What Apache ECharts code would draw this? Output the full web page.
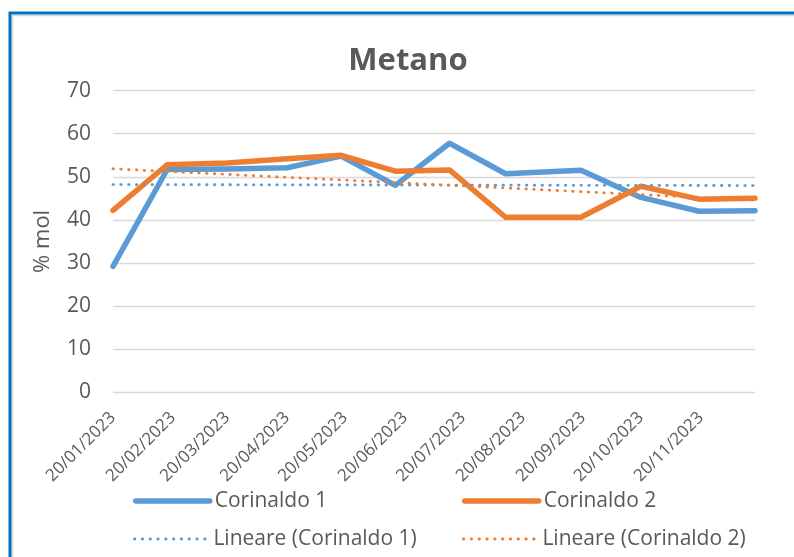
<!DOCTYPE html>
<html><head><meta charset="utf-8">
<script src="https://cdn.jsdelivr.net/npm/echarts@6/dist/echarts.min.js"></script>
<style>html,body{margin:0;padding:0;background:#fff}#c{width:794px;height:557px}</style>
</head><body><div id="c"></div>
<script>
const tickLabels = ['20/01/2023','20/02/2023','20/03/2023','20/04/2023','20/05/2023','20/06/2023','20/07/2023','20/08/2023','20/09/2023','20/10/2023','20/11/2023'];
const sampleDates = ['20/01/2023','17/02/2023','20/03/2023','20/04/2023','18/05/2023','15/06/2023','13/07/2023','11/08/2023','19/09/2023','20/10/2023','19/11/2023','18/12/2023'];
const corinaldo1 = [29.2, 51.7, 51.8, 52.1, 54.8, 48.0, 57.8, 50.7, 51.5, 45.2, 42.0, 42.1];
const corinaldo2 = [42.2, 52.8, 53.2, 54.2, 55.0, 51.3, 51.6, 40.6, 40.6, 47.8, 44.8, 45.0];
const seriesNames = ['Corinaldo 1','Corinaldo 2','Lineare (Corinaldo 1)','Lineare (Corinaldo 2)'];

// dates -> day number since first sample (UTC, no DST issues)
function day(s){ const p = s.split('/'); return Date.UTC(+p[2], +p[1]-1, +p[0]) / 86400000; }
const d0 = day(sampleDates[0]);
const xs = sampleDates.map(s => day(s) - d0);
const tickValues = tickLabels.map(s => day(s) - d0);
function pairs(vals){ return vals.map((v,i)=>[xs[i], v]); }
function trend(vals){
  const n = vals.length;
  const mx = xs.reduce((a,b)=>a+b,0)/n, my = vals.reduce((a,b)=>a+b,0)/n;
  let sxy=0, sxx=0;
  for(let i=0;i<n;i++){ sxy += (xs[i]-mx)*(vals[i]-my); sxx += (xs[i]-mx)*(xs[i]-mx); }
  const b = sxy/sxx, a = my - b*mx;
  return [[xs[0], a + b*xs[0]], [xs[n-1], a + b*xs[n-1]]];
}
const BLUE = '#5B9BD5', ORANGE = '#ED7D31', TXT = '#595959', FONT = 'Open Sans';
const DOT = [0.5, 7.3];
const chart = echarts.init(document.getElementById('c'), null, {renderer:'canvas'});
function leg(name, left, top, color, dotted){
  return { data:[name], left:left, top:top, orient:'horizontal', padding:0, itemWidth:74, itemHeight:14, itemGap:5,
    itemStyle:{ opacity:0, borderWidth:0 },
    lineStyle: dotted ? { color:color, width:2.8, type:DOT, cap:'round', opacity:1 }
                      : { color:color, width:5.5, type:'solid', cap:'round', opacity:1 },
    textStyle:{color:TXT, fontSize:21, fontFamily:FONT, lineHeight:24}, selectedMode:false };
}
chart.setOption({
  animation:false,
  backgroundColor:'#fff',
  title:{ text:'Metano', left:403, textAlign:'center', top:41,
    textStyle:{ color:TXT, fontSize:31, fontWeight:'bold', fontFamily:FONT } },
  graphic:[
    { type:'rect', shape:{x:10, y:13, width:900, height:700}, style:{fill:'none', stroke:'#0070C0', lineWidth:3}, z:100 },
    { type:'rect', shape:{x:12.5, y:15.5, width:900, height:700}, style:{fill:'none', stroke:'#D9D9D9', lineWidth:1.5}, z:99 }
  ],
  legend:[ leg(seriesNames[0],133,489,BLUE,false), leg(seriesNames[1],462,489,ORANGE,false),
           leg(seriesNames[2],133,527,BLUE,true), leg(seriesNames[3],462,527,ORANGE,true) ],
  grid:{ left:113, right:39, top:90.7, bottom:165, containLabel:false },
  xAxis:{ type:'value', min:xs[0], max:xs[xs.length-1],
    axisLine:{show:false}, axisTick:{show:false}, splitLine:{show:false},
    axisLabel:{ customValues:tickValues, rotate:45, margin:23, fontSize:17, fontFamily:FONT, color:TXT,
      formatter:function(v){ const i = tickValues.indexOf(v); return i>=0 ? tickLabels[i] : ''; } } },
  yAxis:{ type:'value', min:0, max:70, interval:10,
    name:'% mol', nameLocation:'middle', nameGap:59, nameRotate:90,
    nameTextStyle:{ color:TXT, fontSize:22, fontFamily:FONT },
    axisLine:{show:false}, axisTick:{show:false},
    axisLabel:{ margin:22, fontSize:21, fontFamily:FONT, color:TXT },
    splitLine:{ lineStyle:{ color:'#D9D9D9', width:1.3 } } },
  series:[
    { name:seriesNames[0], type:'line', data:pairs(corinaldo1), symbol:'none', color:BLUE,
      lineStyle:{ color:BLUE, width:5.5, cap:'round', join:'round' } },
    { name:seriesNames[1], type:'line', data:pairs(corinaldo2), symbol:'none', color:ORANGE,
      lineStyle:{ color:ORANGE, width:5.5, cap:'round', join:'round' } },
    { name:seriesNames[2], type:'line', data:trend(corinaldo1), symbol:'none', color:BLUE,
      lineStyle:{ color:BLUE, width:2.8, type:DOT, cap:'round' } },
    { name:seriesNames[3], type:'line', data:trend(corinaldo2), symbol:'none', color:ORANGE,
      lineStyle:{ color:ORANGE, width:2.8, type:DOT, cap:'round' } }
  ]
});
</script></body></html>
